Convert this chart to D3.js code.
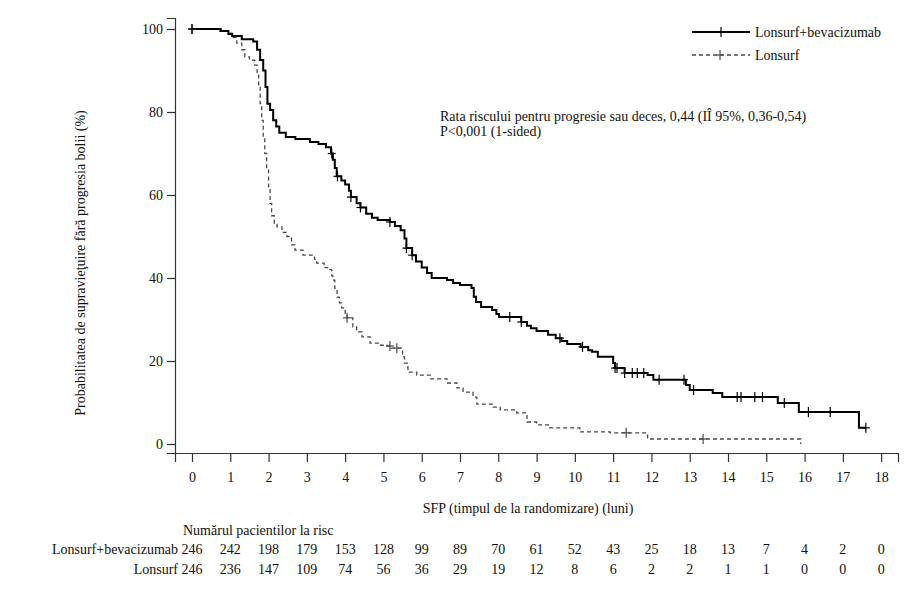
<!DOCTYPE html>
<html>
<head>
<meta charset="utf-8">
<script src="https://d3js.org/d3.v7.min.js"></script>
<style>
  body { margin: 0; background: #fff; }
  text { font-family: "Liberation Serif", "Times New Roman", serif; }
</style>
</head>
<body>
<div id="chart-area"></div>
<script>
const FONT_SIZE = 14;

// Kaplan-Meier steps: [time (months), survival %]
const comboSteps = [
  [0, 100], [0.75, 99.5], [0.95, 98.8], [1.05, 98.3], [1.3, 97.5], [1.6, 97],
  [1.7, 95], [1.78, 92.5], [1.86, 90], [1.92, 86], [1.97, 82], [2.04, 80.5],
  [2.12, 78], [2.2, 76.5], [2.28, 75], [2.45, 74], [2.7, 73.5], [3.08, 72.8],
  [3.3, 72.3], [3.5, 71.5], [3.63, 70], [3.68, 68.5], [3.73, 66.5], [3.78, 64.5],
  [3.9, 63.5], [4.0, 62.5], [4.1, 61], [4.15, 59.5], [4.3, 58], [4.4, 57],
  [4.55, 55.5], [4.7, 54.5], [4.85, 54], [5.17, 53.5], [5.3, 52.5], [5.45, 51.5],
  [5.55, 49.5], [5.6, 47.2], [5.75, 45.5], [5.85, 44], [6.0, 42.5], [6.14, 41.2],
  [6.26, 40], [6.66, 39.5], [6.82, 38.8], [7.0, 38.3], [7.3, 37.6], [7.36, 35.5],
  [7.42, 34.2], [7.55, 33], [7.84, 32.3], [7.95, 31.3], [8.02, 30.6], [8.6, 29.4],
  [8.75, 28.5], [8.85, 27.9], [9.0, 27.2], [9.3, 26.3], [9.5, 25.5], [9.65, 24.8],
  [9.8, 24.1], [10.15, 23.4], [10.35, 22.6], [10.45, 22.2], [10.6, 21], [11.0, 19.5],
  [11.05, 18.3], [11.3, 17.1], [11.9, 16.6], [12.05, 15.5], [12.9, 14.2], [13.0, 13],
  [13.6, 12.3], [13.85, 11.3], [15.3, 9.9], [15.85, 7.7], [17.42, 3.9], [17.6, 3.9]
];
const comboCensored = [0, 3.65, 3.8, 4.15, 4.4, 5.17, 5.6, 5.75, 8.3, 8.6, 9.61, 10.2,
  11.05, 11.1, 11.3, 11.5, 11.63, 11.8, 12.2, 12.85, 13.1, 14.24, 14.34, 14.7, 14.9,
  15.47, 16.1, 16.67, 17.6];

const monoSteps = [
  [0, 100], [0.73, 99.5], [0.95, 99], [1.05, 98], [1.17, 96.6], [1.3, 95],
  [1.38, 93.3], [1.5, 92.5], [1.64, 91.3], [1.7, 89.5], [1.74, 86], [1.78, 82],
  [1.82, 78], [1.86, 74], [1.9, 70], [1.95, 66], [2.0, 62], [2.04, 58], [2.08, 55],
  [2.15, 53], [2.22, 52.3], [2.35, 51], [2.48, 50], [2.6, 48], [2.69, 46.7],
  [2.9, 45.5], [3.2, 44.5], [3.26, 43.6], [3.45, 42.5], [3.6, 42], [3.65, 40.5],
  [3.68, 39.5], [3.73, 37.5], [3.79, 35.4], [3.85, 34], [3.91, 32.8], [4.0, 31.5],
  [4.05, 30.4], [4.2, 28.2], [4.3, 27], [4.44, 25.8], [4.65, 24.3], [4.9, 23.8],
  [5.09, 23.6], [5.2, 23.1], [5.5, 21], [5.55, 19.5], [5.64, 17.3], [5.87, 16.6],
  [6.22, 15.7], [6.66, 14.7], [6.92, 13.5], [7.08, 12.5], [7.34, 11.3], [7.44, 9.6],
  [7.87, 8.9], [8.05, 8.2], [8.48, 7.5], [8.75, 5.3], [9.0, 4.6], [9.35, 3.9],
  [10.13, 2.9], [10.92, 2.7], [11.9, 1.2], [15.9, 0]
];
const monoCensored = [0, 4.05, 5.17, 5.35, 11.34, 13.35];

const monthTicks = d3.range(0, 19);
const pctTicks = [0, 20, 40, 60, 80, 100];

const riskLabels = ["Lonsurf+bevacizumab", "Lonsurf"];
const riskCombo = [246, 242, 198, 179, 153, 128, 99, 89, 70, 61, 52, 43, 25, 18, 13, 7, 4, 2, 0];
const riskMono = [246, 236, 147, 109, 74, 56, 36, 29, 19, 12, 8, 6, 2, 2, 1, 1, 0, 0, 0];

const svg = d3.select("#chart-area").append("svg")
    .attr("width", 920)
    .attr("height", 602);

const x = d3.scaleLinear().domain([-0.444, 18.44]).range([175, 898]);
const y = d3.scaleLinear().domain([-2.17, 102.65]).range([453, 18]);

// axes
const xAxis = svg.append("g")
    .attr("transform", "translate(0,453)")
    .call(d3.axisBottom(x).tickValues(monthTicks).tickSizeOuter(0).tickSize(9).tickPadding(10));
const yAxis = svg.append("g")
    .attr("transform", "translate(175,0)")
    .call(d3.axisLeft(y).tickValues(pctTicks).tickSizeOuter(0).tickSize(8).tickPadding(4));

[xAxis, yAxis].forEach(a => {
    a.selectAll("path, line").attr("stroke", "#333").attr("stroke-width", 1.2);
    a.selectAll("text").attr("font-size", `${FONT_SIZE}px`).attr("fill", "#111")
        .attr("font-family", "Liberation Serif");
});

// survival value at time t
function survAt(steps, t) {
    let v = steps[0][1];
    steps.forEach(s => { if (s[0] <= t) v = s[1]; });
    return v;
}

const line = d3.line().x(d => x(d[0])).y(d => y(d[1])).curve(d3.curveStepAfter);

svg.append("path").datum(monoSteps)
    .attr("d", line).attr("fill", "none")
    .attr("stroke", "#4a4a4a").attr("stroke-width", 1.3).attr("stroke-dasharray", "4,3");

svg.append("path").datum(comboSteps)
    .attr("d", line).attr("fill", "none")
    .attr("stroke", "#000").attr("stroke-width", 2);

function addCross(g, cx, cy, color, w) {
    g.append("line").attr("x1", cx).attr("x2", cx).attr("y1", cy - 5).attr("y2", cy + 5)
        .attr("stroke", color).attr("stroke-width", w);
    g.append("line").attr("x1", cx - 4).attr("x2", cx + 4).attr("y1", cy).attr("y2", cy)
        .attr("stroke", color).attr("stroke-width", w);
}

const marks = svg.append("g");
monoCensored.forEach(t => addCross(marks, x(t), y(survAt(monoSteps, t)), "#4a4a4a", 1.2));
comboCensored.forEach(t => addCross(marks, x(t), y(survAt(comboSteps, t)), "#000", 1.2));

// legend
const legend = svg.append("g");
legend.append("line").attr("x1", 692).attr("x2", 750).attr("y1", 32).attr("y2", 32)
    .attr("stroke", "#000").attr("stroke-width", 2);
addCross(legend, 721, 32, "#000", 1.2);
legend.append("line").attr("x1", 692).attr("x2", 750).attr("y1", 55).attr("y2", 55)
    .attr("stroke", "#4a4a4a").attr("stroke-width", 1.3).attr("stroke-dasharray", "4,3");
addCross(legend, 720, 55, "#4a4a4a", 1.2);

function addLabel(to, label, lx, ly, anchor, rotated) {
    let t = to.append("text")
        .attr("x", lx)
        .attr("y", ly)
        .attr("fill", "#111")
        .attr("font-size", `${FONT_SIZE}px`)
        .attr("text-anchor", anchor || "start");
    if (rotated) t.attr("transform", "rotate(-90)");
    return t.text(label);
}

addLabel(legend, "Lonsurf+bevacizumab", 755, 37);
addLabel(legend, "Lonsurf", 755, 60);

addLabel(svg, "Rata riscului pentru progresie sau deces, 0,44 (IÎ 95%, 0,36-0,54)", 440, 121);
addLabel(svg, "P<0,001 (1-sided)", 440, 136);

addLabel(svg, "SFP (timpul de la randomizare) (luni)", 528, 513, "middle");
addLabel(svg, "Probabilitatea de supravieţuire fără progresia bolii (%)", -263, 85, "middle", true);

// number at risk
addLabel(svg, "Numărul pacientilor la risc", 183, 535);
[riskCombo, riskMono].forEach((row, i) => {
    const ry = 554 + i * 20;
    addLabel(svg, riskLabels[i], 178, ry, "end");
    row.forEach((n, j) => addLabel(svg, n, x(monthTicks[j]), ry, "middle"));
});
</script>
</body>
</html>
